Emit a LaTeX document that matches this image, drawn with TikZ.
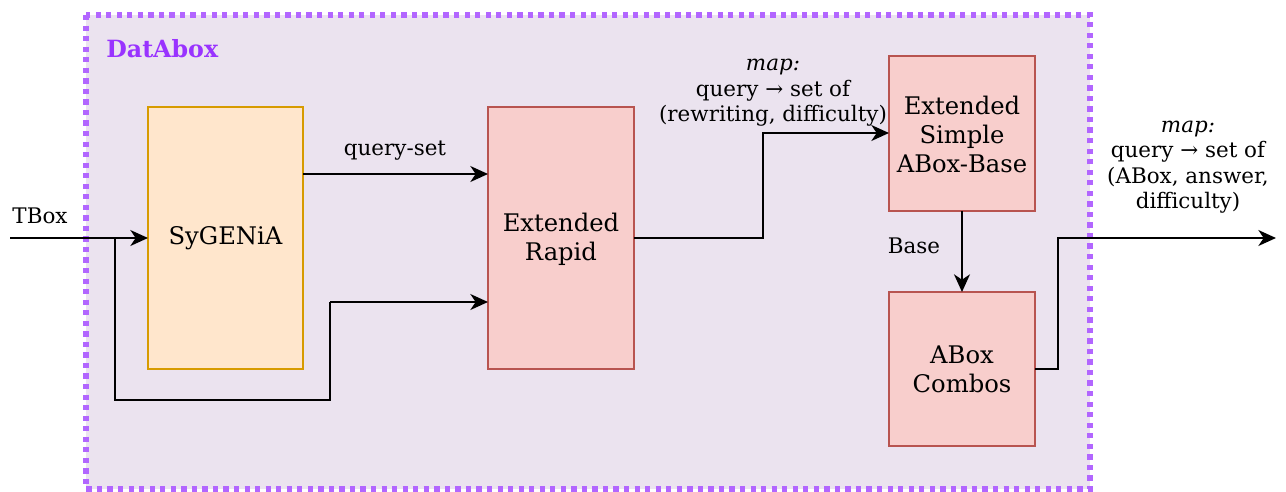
\documentclass[tikz,border=0pt]{standalone}
\usepackage{fontspec}
\setmainfont{DejaVu Serif}
\usetikzlibrary{arrows.meta}
\definecolor{frameFill}{HTML}{EBE3EF}
\definecolor{frameLine}{HTML}{B266FF}
\definecolor{titleText}{HTML}{9933FF}
\definecolor{orangeFill}{HTML}{FFE6CC}
\definecolor{orangeLine}{HTML}{D79B00}
\definecolor{redFill}{HTML}{F8CECC}
\definecolor{redLine}{HTML}{B85450}
\tikzset{
  block/.style={draw=redLine, fill=redFill, line width=1.3pt},
  blocktext/.style={align=center, font=\fontsize{13.8}{16.5}\selectfont, inner sep=0pt},
  flow/.style={line width=1.6pt, -{Stealth[length=10pt,width=9pt,inset=3pt]}},
  wire/.style={line width=1.6pt},
  lbl/.style={font=\fontsize{12.2}{14.5}\selectfont, align=center, inner sep=0pt},
}
\begin{document}
\begin{tikzpicture}[x=0.02cm,y=-0.02cm]
\useasboundingbox (0,0) rectangle (1286,491);
% outer group frame
\path[fill=frameFill] (86,15) rectangle (1090,489);
\draw[frameLine, line width=3pt, dash pattern=on 3pt off 3pt] (86,15) rectangle (1090,489);
\node[anchor=west, text=titleText, font=\bfseries\fontsize{13.5}{16}\selectfont, inner sep=0pt] (title) at (106,49) {DatAbox};

% processing blocks
\path[block, draw=orangeLine, fill=orangeFill] (148,107) rectangle (303,369);
\node[blocktext] (syg) at (225.5,238) {SyGENiA};
\coordinate (sygE) at (303,174);
\coordinate (sygW) at (148,238);

\path[block] (488,107) rectangle (634,369);
\node[blocktext] (rapid) at (561,239) {Extended\\Rapid};
\coordinate (rapW1) at (488,174);
\coordinate (rapW2) at (488,302);
\coordinate (rapE) at (634,238);

\path[block] (889,56) rectangle (1035,211);
\node[blocktext] (simple) at (962,134) {Extended\\Simple\\ABox-Base};
\coordinate (simW) at (889,133);
\coordinate (simS) at (962,211);

\path[block] (889,292) rectangle (1035,446);
\node[blocktext] (combos) at (962,369) {ABox\\Combos};
\coordinate (comN) at (962,292);
\coordinate (comE) at (1035,369);

% inputs and outputs
\coordinate (tboxIn) at (10,238);
\coordinate (split) at (115,238);
\coordinate (outEnd) at (1276,238);

\draw[flow] (tboxIn) -- (sygW);
\node[lbl, anchor=south] (tboxL) at (40,224) {TBox};
\draw[wire] (split) -- (115,400) -- (330,400) -- (330,302);
\draw[flow] (330,302) -- (rapW2);

\draw[flow] (sygE) -- (rapW1);
\node[lbl] (qset) at (395,151) {query-set};

\draw[flow] (rapE) -- (763,238) -- (763,133) -- (simW);
\node[lbl] (map1) at (773,93) {\itshape map:\\query → set of\\(rewriting, difficulty)};

\draw[flow] (simS) -- (comN);
\node[lbl] (base) at (914,246) {Base};

\draw[flow] (comE) -- (1058,369) -- (1058,238) -- (outEnd);
\node[lbl] (map2) at (1188,167) {\itshape map:\\query → set of\\(ABox, answer,\\difficulty)};
\end{tikzpicture}
\end{document}
